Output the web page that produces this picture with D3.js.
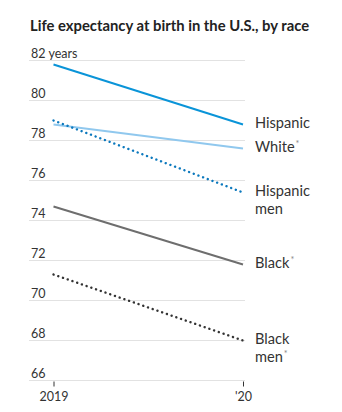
<!DOCTYPE html>
<html>
<head>
<meta charset="utf-8">
<script src="https://cdn.jsdelivr.net/npm/d3@7"></script>
<style>
  body { margin: 0; background: #fff; }
  svg { display: block; font-family: Lato, "Noto Sans", sans-serif; }
</style>
</head>
<body>
<div id="chart"></div>
<script>
// Life expectancy data, years
const years = [2019, 2020];
const yearLabels = ["2019", "'20"];
const hispanic = [81.8, 78.8];
const white = [78.8, 77.6];
const hispanicMen = [79.0, 75.4];
const black = [74.7, 71.8];
const blackMen = [71.3, 68.0];
const yTicks = [66, 68, 70, 72, 74, 76, 78, 80, 82];

const series = [
  { name: ["Hispanic"], star: false, values: hispanic, color: "#0a94d8", dotted: false },
  { name: ["White"], star: true, values: white, color: "#90c8ee", dotted: false },
  { name: ["Hispanic", "men"], star: false, values: hispanicMen, color: "#0b78bd", dotted: true },
  { name: ["Black"], star: true, values: black, color: "#6e6e6e", dotted: false },
  { name: ["Black", "men"], star: true, values: blackMen, color: "#333", dotted: true }
];

const width = 342, height = 412;
const svg = d3.select("#chart").append("svg")
  .attr("width", width)
  .attr("height", height);

svg.append("text")
  .attr("x", 30)
  .attr("y", 31)
  .attr("font-weight", 700)
  .attr("font-size", 14.8)
  .attr("fill", "#222")
  .text("Life expectancy at birth in the U.S., by race");

const x = d3.scaleLinear().domain([2019, 2020]).range([53.5, 243]);
const y = d3.scaleLinear().domain([66, 82]).range([380.5, 60.5]);

// Horizontal gridlines with labels sitting on top
const grid = svg.append("g");
grid.selectAll("line")
  .data(yTicks)
  .join("line")
  .attr("x1", 29)
  .attr("x2", 245)
  .attr("y1", d => y(d))
  .attr("y2", d => y(d))
  .attr("stroke", "#e2e2e2")
  .attr("stroke-width", 1);
grid.selectAll("text")
  .data(yTicks)
  .join("text")
  .attr("x", 31)
  .attr("y", d => y(d) - 2.5)
  .attr("font-size", 12.5)
  .attr("fill", "#333")
  .text(d => d === 82 ? d + " years" : d);

// X axis: ticks only
const xAxis = svg.append("g")
  .attr("transform", `translate(0,${y(66) + 1})`)
  .call(d3.axisBottom(x).tickValues(years).tickSize(5)
    .tickFormat((d, i) => yearLabels[i]));
xAxis.select(".domain").remove();
xAxis.selectAll(".tick line").attr("stroke", "#333");
xAxis.selectAll(".tick text")
  .attr("font-family", "Lato, 'Noto Sans', sans-serif")
  .attr("font-size", 12.5)
  .attr("fill", "#333")
  .attr("dy", "0.95em");

const line = d3.line()
  .x((d, i) => x(years[i]))
  .y(d => y(d));

svg.append("g")
  .selectAll("path")
  .data(series)
  .join("path")
  .attr("d", d => line(d.values))
  .attr("fill", "none")
  .attr("stroke", d => d.color)
  .attr("stroke-width", d => d.dotted ? 2.4 : 2)
  .attr("stroke-linecap", d => d.dotted ? "round" : "butt")
  .attr("stroke-dasharray", d => d.dotted ? "0.1 4.9" : null);

// End labels
const labels = svg.append("g")
  .selectAll("text")
  .data(series)
  .join("text")
  .attr("x", 255)
  .attr("y", d => y(d.values[1]) + 3)
  .attr("font-size", 14.6)
  .attr("fill", "#333");

labels.each(function(d) {
  const t = d3.select(this);
  d.name.forEach((word, i) => {
    t.append("tspan")
      .attr("x", 255)
      .attr("dy", i === 0 ? 0 : 18)
      .text(word);
  });
  if (d.star) {
    t.append("tspan")
      .attr("dx", 1)
      .attr("dy", -5)
      .attr("font-size", 9)
      .attr("fill", "#888")
      .text("*");
  }
});
</script>
</body>
</html>
